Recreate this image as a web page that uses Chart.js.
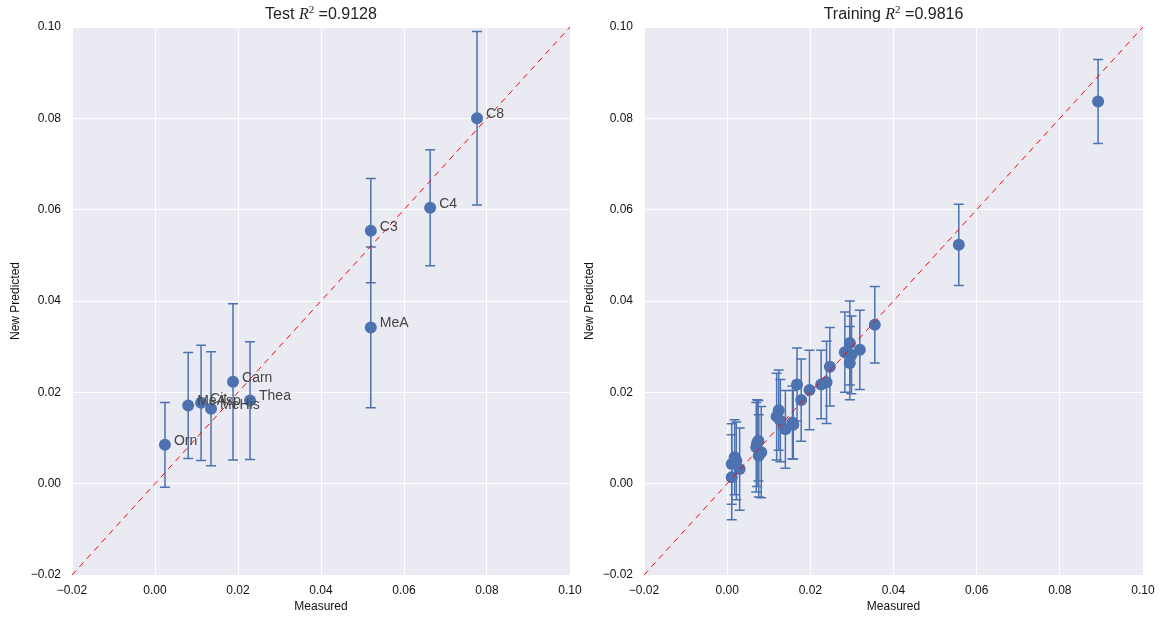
<!DOCTYPE html>
<html>
<head>
<meta charset="utf-8">
<script src="https://cdn.jsdelivr.net/npm/chart.js@4.4.1/dist/chart.umd.min.js"></script>
<style>
  body { margin: 0; background: #fff; }
  #wrap { position: relative; width: 1166px; height: 621px; }
  canvas { position: absolute; top: 0; }
</style>
</head>
<body>
<div id="wrap">
  <canvas id="testChart" width="590" height="621" style="left:0"></canvas>
  <canvas id="trainChart" width="586" height="621" style="left:580px"></canvas>
</div>
<script>
// axis ticks (both panels share them)
const xTicks = [-0.02, 0, 0.02, 0.04, 0.06, 0.08, 0.10];
const yTicks = [-0.02, 0, 0.02, 0.04, 0.06, 0.08, 0.10];

// test set
const testNames = ['Orn', 'MeAsp', 'Cit', 'MeHis', 'Carn', 'Thea', 'C3', 'MeA', 'C4', 'C8'];
const testMeasured = [0.0024, 0.0080, 0.0111, 0.0135, 0.0188, 0.0229, 0.0520, 0.0520, 0.0663, 0.0776];
const testPredicted = [0.0085, 0.0171, 0.0177, 0.0164, 0.0223, 0.0182, 0.0554, 0.0342, 0.0604, 0.0800];
const testErr = [0.0093, 0.0116, 0.0126, 0.0125, 0.0171, 0.0129, 0.0114, 0.0176, 0.0127, 0.0190];

// training set
const trainMeasured = [0.0011, 0.0011, 0.0018, 0.0030, 0.0022, 0.0072, 0.0075, 0.0082, 0.0076, 0.0070,
  0.0124, 0.0119, 0.0128, 0.0140, 0.0157, 0.0159, 0.0168, 0.0178, 0.0198, 0.0226,
  0.0239, 0.0247, 0.0283, 0.0295, 0.0299, 0.0295, 0.0319, 0.0355, 0.0557, 0.0892];
const trainPredicted = [0.0014, 0.0043, 0.0058, 0.0032, 0.0050, 0.0089, 0.0094, 0.0069, 0.0061, 0.0080,
  0.0161, 0.0147, 0.0138, 0.0119, 0.0134, 0.0129, 0.0217, 0.0183, 0.0205, 0.0217,
  0.0222, 0.0256, 0.0288, 0.0308, 0.0282, 0.0264, 0.0293, 0.0348, 0.0523, 0.0837];
const trainErr = [0.0093, 0.0088, 0.0082, 0.0090, 0.0085, 0.0095, 0.0088, 0.0100, 0.0090, 0.0098,
  0.0088, 0.0095, 0.0090, 0.0085, 0.0080, 0.0075, 0.0080, 0.0090, 0.0087, 0.0075,
  0.0090, 0.0086, 0.0088, 0.0092, 0.0085, 0.0080, 0.0087, 0.0084, 0.0089, 0.0092];

const FONT = "'Liberation Sans', Arial, sans-serif";
const BLUE = '#4C72B0';

function fmt(v) {
  const s = Math.abs(v).toFixed(2);
  return v < -1e-9 ? '\u2212' + s : s;
}

// grey panel behind the grid
const panelBg = {
  id: 'panelBg',
  beforeDraw(chart) {
    const a = chart.chartArea, ctx = chart.ctx;
    ctx.save();
    ctx.fillStyle = '#EAEAF2';
    ctx.fillRect(a.left, a.top, a.right - a.left, a.bottom - a.top);
    ctx.restore();
  }
};

// vertical error bars with caps, under the markers
const errorBars = {
  id: 'errorBars',
  beforeDatasetsDraw(chart, args, opts) {
    const ctx = chart.ctx, xs = chart.scales.x, ys = chart.scales.y;
    const ds = chart.data.datasets[0];
    ctx.save();
    ctx.strokeStyle = BLUE;
    ctx.lineWidth = 1.5;
    ds.data.forEach((p, i) => {
      const e = opts.errors[i];
      const px = xs.getPixelForValue(p.x);
      const t = ys.getPixelForValue(p.y + e);
      const b = ys.getPixelForValue(p.y - e);
      ctx.beginPath();
      ctx.moveTo(px, t); ctx.lineTo(px, b);
      ctx.moveTo(px - 5, t); ctx.lineTo(px + 5, t);
      ctx.moveTo(px - 5, b); ctx.lineTo(px + 5, b);
      ctx.stroke();
    });
    ctx.restore();
  }
};

// point names + mathtext-like title
const annotate = {
  id: 'annotate',
  afterDraw(chart, args, opts) {
    const ctx = chart.ctx, a = chart.chartArea;
    const xs = chart.scales.x, ys = chart.scales.y;
    ctx.save();
    if (opts.names) {
      ctx.fillStyle = '#444';
      ctx.font = '14px ' + FONT;
      ctx.textBaseline = 'middle';
      ctx.textAlign = 'left';
      chart.data.datasets[0].data.forEach((p, i) => {
        ctx.fillText(opts.names[i], xs.getPixelForValue(p.x) + 9, ys.getPixelForValue(p.y) - 4);
      });
    }
    // title: "<word> R^2 =value"
    const parts = [
      [opts.word + ' ', '16px ' + FONT, 0],
      ['R', 'italic 16px "Liberation Serif", serif', 0],
      ['2', '11px "Liberation Serif", serif', -6],
      [' =' + opts.r2, '16px ' + FONT, 0]
    ];
    let w = 0;
    parts.forEach(pt => { ctx.font = pt[1]; w += ctx.measureText(pt[0]).width; });
    let x = (a.left + a.right) / 2 - w / 2;
    ctx.fillStyle = '#222';
    ctx.textBaseline = 'alphabetic';
    parts.forEach(pt => {
      ctx.font = pt[1];
      ctx.fillText(pt[0], x, 19 + pt[2]);
      x += ctx.measureText(pt[0]).width;
    });
    ctx.restore();
  }
};

function axis(ticks, title, isX, fit, titlePad) {
  return {
    type: 'linear',
    min: -0.02,
    max: 0.10,
    afterBuildTicks: s => { s.ticks = ticks.map(v => ({ value: v })); },
    afterFit: s => { if (isX) s.height = fit; else s.width = fit; },
    ticks: {
      callback: v => fmt(v),
      color: '#111',
      font: { family: FONT, size: 12 },
      padding: isX ? 8 : 11,
      maxRotation: 0,
      autoSkip: false
    },
    grid: { color: '#ffffff', lineWidth: 1, drawTicks: false },
    border: { display: false },
    title: {
      display: true,
      text: title,
      color: '#111',
      font: { family: FONT, size: 12 },
      padding: titlePad
    }
  };
}

function makeChart(id, word, r2, xs, ys, errs, names, yWidth, padRight, yTitlePad) {
  const pts = xs.map((x, i) => ({ x: x, y: ys[i] }));
  return new Chart(document.getElementById(id), {
    type: 'scatter',
    data: {
      datasets: [
        {
          data: pts,
          order: 1,
          pointRadius: 6,
          pointBackgroundColor: BLUE,
          pointBorderColor: BLUE,
          pointBorderWidth: 0
        },
        {
          type: 'line',
          data: [{ x: -0.02, y: -0.02 }, { x: 0.10, y: 0.10 }],
          order: 0,
          borderColor: '#ff0000',
          borderWidth: 1,
          borderDash: [6, 5],
          pointRadius: 0,
          fill: false
        }
      ]
    },
    options: {
      responsive: false,
      animation: false,
      devicePixelRatio: 1,
      layout: { padding: { top: 27, right: padRight, left: 0, bottom: 0 } },
      plugins: {
        legend: { display: false },
        tooltip: { enabled: false },
        errorBars: { errors: errs },
        annotate: { names: names, word: word, r2: r2 }
      },
      scales: {
        x: axis(xTicks, 'Measured', true, 46, { top: 0, bottom: 7 }),
        y: axis(yTicks, 'New Predicted', false, yWidth, { top: yTitlePad, bottom: 0 })
      }
    },
    plugins: [panelBg, errorBars, annotate]
  });
}

makeChart('testChart', 'Test', '0.9128', testMeasured, testPredicted, testErr, testNames, 72, 20, 8);
makeChart('trainChart', 'Training', '0.9816', trainMeasured, trainPredicted, trainErr, null, 64, 23, 2);
</script>
</body>
</html>
